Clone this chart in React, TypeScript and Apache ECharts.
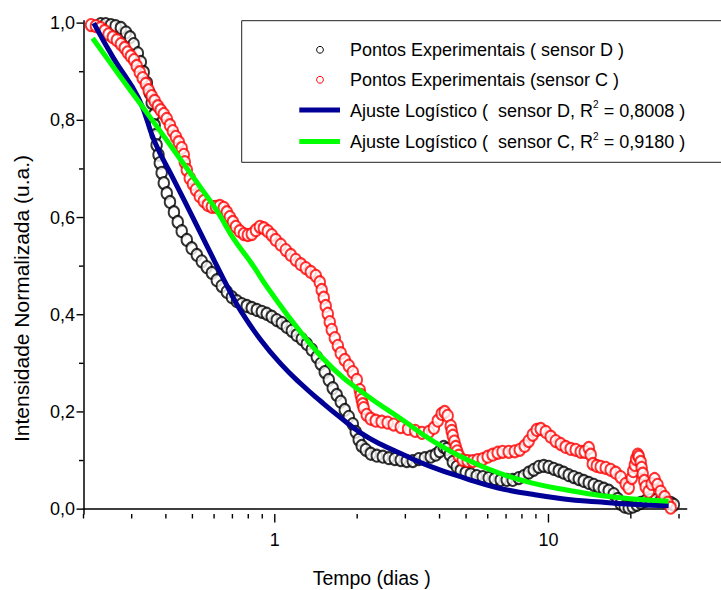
import { useEffect, useRef } from 'react';
import * as echarts from 'echarts';

const FONT = "'Liberation Sans', Arial, Helvetica, sans-serif";

// Normalised intensity of sensor D versus time (days)
const sensorD: [number, number][] = [
  [0.231, 0.998], [0.241, 0.998], [0.252, 0.996], [0.262, 0.994], [0.274, 0.990],
  [0.286, 0.981], [0.296, 0.971], [0.305, 0.957], [0.316, 0.938], [0.324, 0.920],
  [0.332, 0.899], [0.341, 0.877], [0.349, 0.856], [0.355, 0.836], [0.362, 0.811],
  [0.364, 0.790], [0.367, 0.770], [0.370, 0.749], [0.376, 0.729], [0.380, 0.712],
  [0.386, 0.692], [0.393, 0.671], [0.403, 0.650], [0.414, 0.632], [0.428, 0.611],
  [0.442, 0.591], [0.457, 0.572], [0.477, 0.554], [0.497, 0.537], [0.519, 0.523],
  [0.541, 0.510], [0.564, 0.498], [0.589, 0.486], [0.614, 0.471], [0.640, 0.459],
  [0.668, 0.447], [0.697, 0.436], [0.727, 0.428], [0.758, 0.422], [0.790, 0.418],
  [0.824, 0.414], [0.860, 0.410], [0.897, 0.406], [0.935, 0.402], [0.975, 0.396],
  [1.017, 0.389], [1.061, 0.383], [1.106, 0.375], [1.154, 0.367], [1.203, 0.358],
  [1.255, 0.350], [1.309, 0.340], [1.365, 0.328], [1.424, 0.313], [1.472, 0.299],
  [1.522, 0.282], [1.575, 0.266], [1.628, 0.249], [1.684, 0.235], [1.742, 0.221],
  [1.802, 0.204], [1.864, 0.190], [1.928, 0.175], [1.976, 0.159], [2.026, 0.143],
  [2.078, 0.130], [2.150, 0.122], [2.242, 0.114], [2.358, 0.110], [2.481, 0.108],
  [2.609, 0.105], [2.744, 0.103], [2.886, 0.101], [3.036, 0.099], [3.193, 0.099],
  [3.358, 0.103], [3.532, 0.105], [3.714, 0.108], [3.874, 0.112], [4.006, 0.119],
  [4.143, 0.128], [4.249, 0.124], [4.359, 0.112], [4.471, 0.097], [4.623, 0.087],
  [4.781, 0.079], [4.986, 0.075], [5.200, 0.072], [5.468, 0.068], [5.752, 0.066],
  [6.049, 0.064], [6.362, 0.062], [6.693, 0.060], [7.039, 0.060], [7.404, 0.060],
  [7.787, 0.064], [8.122, 0.068], [8.471, 0.075], [8.835, 0.081], [9.215, 0.087],
  [9.611, 0.089], [10.02, 0.087], [10.46, 0.083], [10.91, 0.079], [11.37, 0.075],
  [11.86, 0.070], [12.37, 0.066], [12.91, 0.062], [13.46, 0.058], [14.04, 0.054],
  [14.64, 0.050], [15.27, 0.046], [15.93, 0.042], [16.61, 0.038], [17.32, 0.031],
  [17.91, 0.021], [18.36, 0.011], [19.00, 0.005], [19.65, 0.003], [20.33, 0.005],
  [21.03, 0.009], [21.73, 0.013], [22.66, 0.017], [23.63, 0.019], [24.65, 0.019],
  [25.71, 0.017], [26.81, 0.015], [27.96, 0.013], [28.73, 0.009],
];

// Normalised intensity of sensor C versus time (days)
const sensorC: [number, number][] = [
  [0.213, 0.996], [0.222, 0.994], [0.231, 0.990], [0.239, 0.984], [0.247, 0.977],
  [0.256, 0.971], [0.265, 0.965], [0.274, 0.957], [0.283, 0.949], [0.290, 0.940],
  [0.298, 0.932], [0.306, 0.924], [0.313, 0.912], [0.321, 0.899], [0.329, 0.887],
  [0.338, 0.875], [0.346, 0.862], [0.355, 0.850], [0.364, 0.840], [0.374, 0.829],
  [0.383, 0.821], [0.393, 0.813], [0.403, 0.803], [0.414, 0.790], [0.424, 0.778],
  [0.435, 0.766], [0.446, 0.755], [0.457, 0.743], [0.465, 0.729], [0.469, 0.714],
  [0.477, 0.698], [0.489, 0.681], [0.502, 0.669], [0.515, 0.657], [0.532, 0.644],
  [0.550, 0.634], [0.569, 0.626], [0.589, 0.622], [0.609, 0.622], [0.630, 0.624],
  [0.651, 0.620], [0.668, 0.611], [0.685, 0.601], [0.703, 0.591], [0.721, 0.581],
  [0.745, 0.572], [0.771, 0.566], [0.797, 0.564], [0.824, 0.566], [0.853, 0.574],
  [0.882, 0.581], [0.912, 0.578], [0.943, 0.572], [0.975, 0.564], [1.008, 0.554],
  [1.052, 0.544], [1.097, 0.533], [1.144, 0.523], [1.193, 0.513], [1.245, 0.504],
  [1.298, 0.496], [1.354, 0.488], [1.412, 0.480], [1.460, 0.467], [1.484, 0.451],
  [1.510, 0.435], [1.535, 0.418], [1.562, 0.402], [1.588, 0.385], [1.615, 0.369],
  [1.657, 0.352], [1.700, 0.336], [1.742, 0.321], [1.802, 0.307], [1.864, 0.295],
  [1.928, 0.282], [1.994, 0.266], [2.044, 0.245], [2.060, 0.235], [2.078, 0.225],
  [2.095, 0.216], [2.113, 0.208], [2.167, 0.194], [2.242, 0.186], [2.338, 0.182],
  [2.458, 0.180], [2.585, 0.178], [2.718, 0.174], [2.886, 0.169], [3.068, 0.165],
  [3.258, 0.161], [3.450, 0.157], [3.657, 0.159], [3.814, 0.167], [3.941, 0.182],
  [4.073, 0.196], [4.176, 0.200], [4.283, 0.192], [4.395, 0.171], [4.430, 0.161],
  [4.471, 0.151], [4.530, 0.139], [4.584, 0.128], [4.640, 0.119], [4.703, 0.110],
  [4.863, 0.101], [5.070, 0.099], [5.285, 0.099], [5.511, 0.101], [5.752, 0.103],
  [5.999, 0.108], [6.255, 0.112], [6.524, 0.116], [6.799, 0.118], [7.160, 0.118],
  [7.530, 0.119], [7.857, 0.122], [8.191, 0.130], [8.471, 0.140], [8.760, 0.153],
  [9.061, 0.163], [9.371, 0.165], [9.774, 0.159], [10.19, 0.149], [10.63, 0.140],
  [11.09, 0.134], [11.56, 0.128], [12.06, 0.124], [12.58, 0.122], [13.12, 0.118],
  [13.57, 0.118], [14.04, 0.126], [14.27, 0.112], [14.52, 0.093], [15.02, 0.089],
  [15.52, 0.087], [16.19, 0.085], [16.88, 0.081], [17.61, 0.075], [18.36, 0.066],
  [19.15, 0.052], [19.65, 0.044], [20.16, 0.064], [20.40, 0.078], [20.68, 0.091],
  [20.90, 0.103], [21.21, 0.112], [21.40, 0.108], [21.73, 0.097], [21.90, 0.085],
  [22.10, 0.073], [22.40, 0.058], [22.66, 0.046], [23.24, 0.036], [23.82, 0.052],
  [24.42, 0.062], [25.04, 0.050], [25.71, 0.036], [26.58, 0.025], [27.27, 0.013],
  [27.96, 0.003],
];

// Logistic fit curves
const fitD: [number, number][] = [
  [0.218, 1.0], [0.258, 0.927], [0.318, 0.845], [0.364, 0.756], [0.431, 0.674],
  [0.511, 0.591], [0.604, 0.509], [0.68, 0.452], [0.751, 0.408], [0.889, 0.348],
  [1.052, 0.299], [1.245, 0.258], [1.472, 0.222], [1.742, 0.188], [2.06, 0.157],
  [2.45, 0.133], [2.9, 0.114], [3.7, 0.088], [5.0, 0.063], [6.5, 0.044],
  [8.6, 0.031], [11.4, 0.021], [15, 0.015], [20, 0.010], [27.5, 0.007],
];

const fitC: [number, number][] = [
  [0.216, 0.969], [0.267, 0.897], [0.355, 0.802], [0.469, 0.707], [0.537, 0.661],
  [0.619, 0.611], [0.708, 0.556], [0.824, 0.505], [0.943, 0.455], [1.245, 0.364],
  [1.64, 0.288], [2.18, 0.233], [2.89, 0.186], [3.81, 0.139], [5.07, 0.101],
  [6.69, 0.073], [8.83, 0.053], [11.8, 0.039], [15.5, 0.028], [20.5, 0.021],
  [27.5, 0.016],
];

// Axis ticks
const xTickLabels = [1, 10];
const xMinorTicks = [0.2, 0.3, 0.4, 0.5, 0.6, 0.7, 0.8, 0.9, 2, 3, 4, 5, 6, 7, 8, 9, 20, 30];
const yTickValues = [0, 0.2, 0.4, 0.6, 0.8, 1.0];
const yMinorTicks = [0.1, 0.3, 0.5, 0.7, 0.9];

const X_MIN = 0.2;
const X_MAX = 32;
const Y_MIN = -0.01;
const Y_MAX = 1.005;

const pointLabels = ['Pontos Experimentais ( sensor D )', 'Pontos Experimentais (sensor C )'];
const fitSensors = ['sensor D', 'sensor C'];
const fitR2 = ['0,8008', '0,9180'];

const BLACK = '#000000';
const RED = '#ff0000';
const NAVY = '#000096';
const LIME = '#00ff00';

export default function App() {
  const ref = useRef<HTMLDivElement>(null);

  useEffect(() => {
    if (!ref.current) return;
    const chart = echarts.init(ref.current, null, { renderer: 'svg' });

    const tickData = [
      ...xTickLabels.map((v) => [v, Y_MIN, 0]),
      ...xMinorTicks.map((v) => [v, Y_MIN, 1]),
      ...yTickValues.map((v) => [X_MIN, v, 2]),
      ...yMinorTicks.map((v) => [X_MIN, v, 3]),
    ];

    const scatterStyle = (stroke: string) => ({
      type: 'scatter',
      symbol: 'circle',
      symbolSize: [10.5, 12],
      itemStyle: { color: '#ffffff', borderColor: stroke, borderWidth: 2 },
      z: 2,
    });

    const fitStyle = (color: string) => ({
      type: 'line',
      smooth: true,
      showSymbol: false,
      symbol: 'none',
      lineStyle: { width: 5, color },
      itemStyle: { color },
      z: 3,
    });

    const legendTextStyle = { fontSize: 18, fontFamily: FONT, fill: BLACK };
    const legendRows = [49.8, 79.8, 110.8, 142.4];

    const fitLegendText = (i: number) =>
      `{t|Ajuste Logístico (\u00a0\u00a0${fitSensors[i]}, R}{s|2}{t| = ${fitR2[i]} )}`;

    const richStyles = {
      t: { fontSize: 18, fontFamily: FONT, color: BLACK, lineHeight: 22 },
      s: { fontSize: 10, fontFamily: FONT, color: BLACK, lineHeight: 10, verticalAlign: 'top' },
    };

    chart.setOption({
      animation: false,
      backgroundColor: '#ffffff',
      grid: { left: 83.5, top: 20.7, right: 34.3, bottom: 76, outerBoundsMode: 'none' },
      xAxis: {
        type: 'log',
        logBase: 10,
        min: X_MIN,
        max: X_MAX,
        axisLine: { lineStyle: { color: BLACK, width: 1.5 } },
        axisTick: { show: false },
        minorTick: { show: false },
        splitLine: { show: false },
        axisLabel: {
          margin: 16.5,
          fontSize: 18,
          fontFamily: FONT,
          color: BLACK,
          showMinLabel: false,
          showMaxLabel: false,
          formatter: (v: number) => {
            const hit = xTickLabels.find((t) => Math.abs(v - t) / t < 1e-6);
            return hit === undefined ? '' : String(hit);
          },
        },
      },
      yAxis: {
        type: 'value',
        min: Y_MIN,
        max: Y_MAX,
        splitNumber: 5,
        axisLine: { show: true, lineStyle: { color: BLACK, width: 1.5 } },
        axisTick: { show: false },
        splitLine: { show: false },
        axisLabel: {
          margin: 8.5,
          fontSize: 18,
          fontFamily: FONT,
          color: BLACK,
          showMinLabel: false,
          showMaxLabel: false,
          formatter: (v: number) => {
            const hit = yTickValues.find((t) => Math.abs(v - t) < 1e-6);
            return hit === undefined ? '' : hit.toFixed(1).replace('.', ',');
          },
        },
      },
      series: [
        { ...scatterStyle(BLACK), name: pointLabels[0], data: sensorD },
        { ...scatterStyle(RED), name: pointLabels[1], data: sensorC },
        { ...fitStyle(NAVY), name: 'fitD', data: fitD },
        { ...fitStyle(LIME), name: 'fitC', data: fitC },
        {
          type: 'custom',
          coordinateSystem: 'cartesian2d',
          clip: false,
          silent: true,
          z: 6,
          data: tickData,
          renderItem: (_p: any, api: any) => {
            const kind = api.value(2);
            const pt = api.coord([api.value(0), api.value(1)]);
            const shape =
              kind < 2
                ? { x1: pt[0], y1: pt[1], x2: pt[0], y2: pt[1] + (kind === 0 ? 8.5 : 4.5) }
                : { x1: pt[0] - (kind === 2 ? 7 : 4.5), y1: pt[1], x2: pt[0], y2: pt[1] };
            return { type: 'line', shape, style: { stroke: BLACK, lineWidth: 1.4 } };
          },
        },
      ],
      graphic: [
        {
          type: 'rect',
          z: 10,
          shape: { x: 241.7, y: 20.7, width: 500, height: 141.6 },
          style: { fill: '#ffffff', stroke: '#202020', lineWidth: 1 },
        },
        {
          type: 'circle',
          z: 11,
          shape: { cx: 320, cy: legendRows[0], r: 3.4 },
          style: { fill: '#ffffff', stroke: BLACK, lineWidth: 1 },
        },
        {
          type: 'circle',
          z: 11,
          shape: { cx: 320, cy: legendRows[1], r: 3.4 },
          style: { fill: '#ffffff', stroke: RED, lineWidth: 1 },
        },
        {
          type: 'line',
          z: 11,
          shape: { x1: 299.3, y1: legendRows[2] - 0.8, x2: 340, y2: legendRows[2] - 0.8 },
          style: { stroke: NAVY, lineWidth: 5 },
        },
        {
          type: 'line',
          z: 11,
          shape: { x1: 299.3, y1: legendRows[3] - 0.8, x2: 340, y2: legendRows[3] - 0.8 },
          style: { stroke: LIME, lineWidth: 5 },
        },
        {
          type: 'text',
          z: 11,
          x: 350,
          y: legendRows[0],
          style: { ...legendTextStyle, text: pointLabels[0], align: 'left', verticalAlign: 'middle' },
        },
        {
          type: 'text',
          z: 11,
          x: 350,
          y: legendRows[1],
          style: { ...legendTextStyle, text: pointLabels[1], align: 'left', verticalAlign: 'middle' },
        },
        {
          type: 'text',
          z: 11,
          x: 350,
          y: legendRows[2],
          style: {
            text: fitLegendText(0),
            rich: richStyles,
            align: 'left',
            verticalAlign: 'middle',
          },
        },
        {
          type: 'text',
          z: 11,
          x: 350,
          y: legendRows[3],
          style: {
            text: fitLegendText(1),
            rich: richStyles,
            align: 'left',
            verticalAlign: 'middle',
          },
        },
        {
          type: 'text',
          x: 371.7,
          y: 578,
          style: {
            text: 'Tempo (dias )',
            fontSize: 19.5,
            fontFamily: FONT,
            fill: BLACK,
            align: 'center',
            verticalAlign: 'middle',
          },
        },
        {
          type: 'text',
          x: 21.4,
          y: 298.5,
          rotation: Math.PI / 2,
          style: {
            text: 'Intensidade Normalizada (u.a.)',
            fontSize: 21,
            fontFamily: FONT,
            fill: BLACK,
            align: 'center',
            verticalAlign: 'middle',
          },
        },
      ],
    });

    return () => chart.dispose();
  }, []);

  return (
    <div
      ref={ref}
      style={{ position: 'absolute', left: 0, top: 0, width: 721, height: 590, background: '#ffffff' }}
    />
  );
}
